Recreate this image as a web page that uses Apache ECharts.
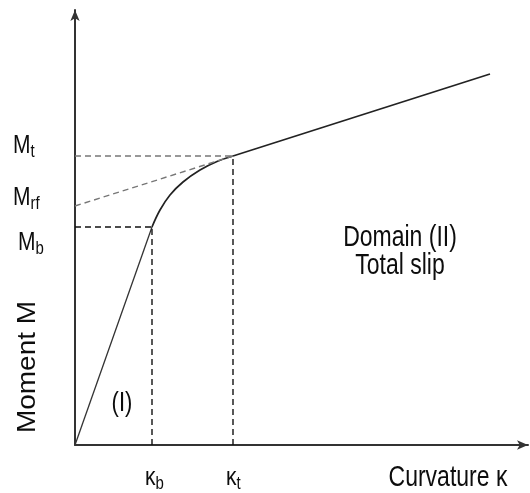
<!DOCTYPE html>
<html><head><meta charset="utf-8">
<script src="https://cdn.jsdelivr.net/npm/echarts@6/dist/echarts.min.js"></script>
<style>html,body{margin:0;padding:0;background:#fff}#c{width:530px;height:493px}</style>
</head><body><div id="c"></div>
<script>
// Key values (pixel-scaled units)
const kappaB = 77, kappaT = 158;
const Mb = 218, Mt = 289, Mrf = 239;
const linearPart = [[0, 0], [77, 218]];
const curvePart = [[77, 218], [85, 235], [95, 250], [108, 263], [125, 275], [142, 283.5], [158, 289]];
const upperLine = [[158, 289], [415, 371]];
const yLabels = [['M', 't', Mt], ['M', 'rf', Mrf], ['M', 'b', Mb]];
const xLabels = [['κ', 'b', kappaB], ['κ', 't', kappaT]];
const regionI = [47, 42];        // data position of the "(I)" annotation
const regionII = [325, 193];     // data position of the "Domain (II)" annotation

const chart = echarts.init(document.getElementById('c'));
const FONT = 'Liberation Sans, Arial, sans-serif';
const INK = '#0d0d0d';
const dash = (c) => ({color: c, width: 1.4, type: [6, 4]});
chart.setOption({
  animation: false,
  grid: {left: 75, top: 10, width: 453, height: 435},
  xAxis: {type: 'value', min: 0, max: 453, splitLine: {show: false}, axisTick: {show: false}, axisLabel: {show: false},
    axisLine: {lineStyle: {color: '#333', width: 2}, symbol: ['none', 'arrow'], symbolSize: [7, 11]}},
  yAxis: {type: 'value', min: 0, max: 435, splitLine: {show: false}, axisTick: {show: false}, axisLabel: {show: false},
    axisLine: {lineStyle: {color: '#333', width: 2}, symbol: ['none', 'arrow'], symbolSize: [7, 11]}},
  series: [
    {type: 'line', data: linearPart, showSymbol: false, lineStyle: {color: '#333', width: 1.3}},
    {type: 'line', data: curvePart, smooth: 0.4, showSymbol: false, lineStyle: {color: '#222', width: 1.7}},
    {type: 'line', data: upperLine, showSymbol: false, lineStyle: {color: '#222', width: 1.7}},
    {type: 'line', data: [[0, Mb], [kappaB, Mb]], showSymbol: false, lineStyle: dash('#111')},
    {type: 'line', data: [[kappaB, 0], [kappaB, Mb]], showSymbol: false, lineStyle: dash('#111')},
    {type: 'line', data: [[kappaT, 0], [kappaT, Mt]], showSymbol: false, lineStyle: dash('#111')},
    {type: 'line', data: [[0, Mt], [kappaT, Mt]], showSymbol: false, lineStyle: dash('#777')},
    {type: 'line', data: [[0, Mrf], [kappaT, Mt]], showSymbol: false, lineStyle: dash('#777')}
  ]
});

// Text annotations anchored to data positions (text in the reference is vertically stretched)
const P = (v) => chart.convertToPixel({gridIndex: 0}, v);
const SY = 1.25;
const rich = {
  m: {fontSize: 21, fontFamily: FONT, fill: INK},
  s: {fontSize: 15, fontFamily: FONT, fill: INK, padding: [9, 0, 0, 0]}
};
const origin = P([0, 0]);
const yOff = [[-62, -10], [-62, -8], [-57, 16]];
const g = [];
yLabels.forEach((d, i) => {
  const p = P([0, d[2]]);
  g.push({type: 'text', x: p[0] + yOff[i][0], y: p[1] + yOff[i][1], scaleY: SY,
    style: {text: '{m|' + d[0] + '}{s|' + d[1] + '}', rich: rich, align: 'left', verticalAlign: 'middle'}});
});
xLabels.forEach((d) => {
  const p = P([d[2], 0]);
  g.push({type: 'text', x: p[0] - 7, y: p[1] + 33, scaleY: SY,
    style: {text: '{m|' + d[0] + '}{s|' + d[1] + '}', rich: rich, align: 'left', verticalAlign: 'middle'}});
});
const pI = P(regionI), pII = P(regionII);
g.push({type: 'text', x: pI[0], y: pI[1], scaleY: SY,
  style: {text: '(I)', fontSize: 22, fontFamily: FONT, fill: INK, align: 'center', verticalAlign: 'middle'}});
g.push({type: 'text', x: pII[0], y: pII[1], scaleY: SY,
  style: {text: 'Domain (II)\nTotal slip', fontSize: 23, fontFamily: FONT, fill: INK, align: 'center', verticalAlign: 'middle', lineHeight: 23}});
g.push({type: 'text', x: origin[0] + 373, y: origin[1] + 33, scaleY: SY,
  style: {text: 'Curvature κ', fontSize: 23, fontFamily: FONT, fill: INK, align: 'center', verticalAlign: 'middle'}});
g.push({type: 'text', x: origin[0] - 47, y: origin[1] - 78, rotation: Math.PI / 2, scaleX: 1.12,
  style: {text: 'Moment M', fontSize: 25, fontFamily: FONT, fill: INK, align: 'center', verticalAlign: 'middle'}});
chart.setOption({graphic: g});
</script></body></html>
